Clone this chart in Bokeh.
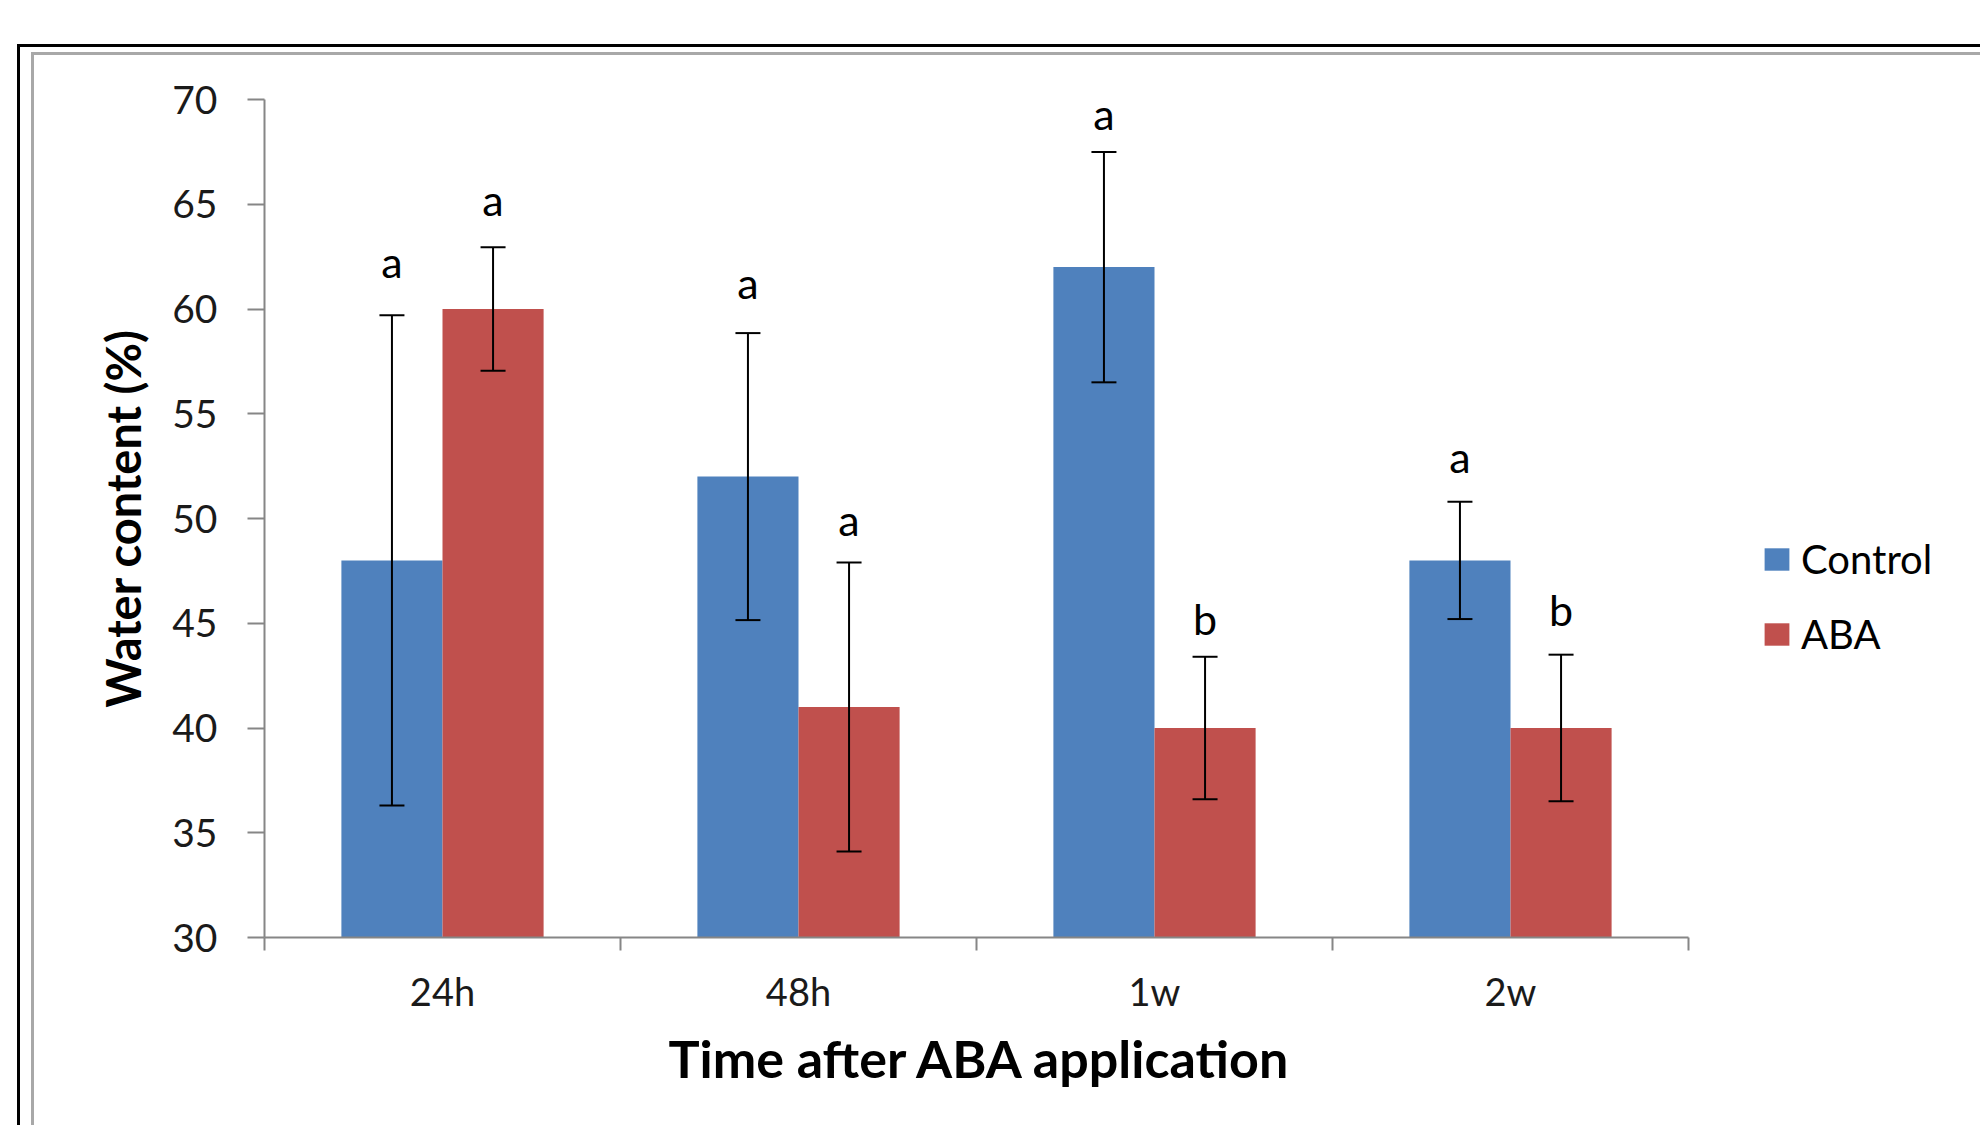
import numpy as np
from bokeh.plotting import figure
from bokeh.models import (ColumnDataSource, Range1d, FixedTicker, Whisker, TeeHead,
                          Legend, LegendItem, Title)
from bokeh.core.properties import value
from bokeh.embed import file_html
from bokeh.resources import INLINE

# ---------------- data ----------------
categories = ["24h", "48h", "1w", "2w"]
control_mean = [48.0, 52.0, 62.0, 48.0]
control_err = [11.7, 6.85, 5.5, 2.8]
aba_mean = [60.0, 41.0, 40.0, 40.0]
aba_err = [2.95, 6.9, 3.4, 3.5]
control_letters = ["a", "a", "a", "a"]
aba_letters = ["a", "a", "b", "b"]
control_letter_y = [62.25, 61.25, 69.35, 52.95]
aba_letter_y = [65.25, 49.95, 45.25, 45.65]
y_ticks = [30, 35, 40, 45, 50, 55, 60, 65, 70]
series_names = ["Control", "ABA"]
x_title = "Time after ABA application"
y_title = "Water content (%)"

BLUE = "#4F81BD"
RED = "#C0504D"
AXIS_GRAY = "#868686"
FONT = "Lato"

# layout (pixels)
W, H = 1980, 1125
LEFT, TOP, AXIS_RIGHT, BOTTOM = 264, 99, 1688, 937

bar_w = 0.284
n = len(categories)
idx = np.arange(n)
x_c = idx + 0.5 - bar_w / 2
x_a = idx + 0.5 + bar_w / 2
# frame runs to the right edge so the legend can sit inside it; axis stops at n
x_end = n * (W - LEFT) / (AXIS_RIGHT - LEFT)

src_c = ColumnDataSource(dict(
    x=x_c, top=control_mean,
    upper=np.array(control_mean) + np.array(control_err),
    lower=np.array(control_mean) - np.array(control_err),
    letter=control_letters, ly=control_letter_y))
src_a = ColumnDataSource(dict(
    x=x_a, top=aba_mean,
    upper=np.array(aba_mean) + np.array(aba_err),
    lower=np.array(aba_mean) - np.array(aba_err),
    letter=aba_letters, ly=aba_letter_y))

p = figure(width=W, height=H, output_backend="svg", toolbar_location=None,
           x_range=Range1d(0, x_end), y_range=Range1d(y_ticks[0], y_ticks[-1]),
           min_border_left=LEFT, min_border_right=0, min_border_top=TOP,
           min_border_bottom=H - BOTTOM)
p.outline_line_color = None
p.xgrid.visible = False
p.ygrid.visible = False
p.background_fill_color = "white"
p.border_fill_color = None
# chart-area frame lines (black outer, gray inner), drawn as CSS on the host element
p.styles = {
    "box-shadow": ("inset 17px 44px 0 0 #ffffff, inset 20px 47px 0 0 #000000, "
                   "inset 31px 52px 0 0 #ffffff, inset 34px 55px 0 0 #a8a8a8"),
    "background-color": "#ffffff",
}

r_c = p.vbar(x="x", top="top", bottom=y_ticks[0], width=bar_w, source=src_c,
             fill_color=BLUE, line_color=None)
r_a = p.vbar(x="x", top="top", bottom=y_ticks[0], width=bar_w, source=src_a,
             fill_color=RED, line_color=None)

for src in (src_c, src_a):
    w = Whisker(base="x", upper="upper", lower="lower", source=src, dimension="height",
                line_color="black", line_width=2, level="overlay",
                upper_head=TeeHead(size=25, line_color="black", line_width=2),
                lower_head=TeeHead(size=25, line_color="black", line_width=2))
    p.add_layout(w)
    p.text(x="x", y="ly", text="letter", source=src, text_align="center",
           text_baseline="middle", text_font=value(FONT), text_font_size="43px",
           text_color="black")

# y axis
p.yaxis.ticker = FixedTicker(ticks=y_ticks)
p.yaxis.axis_label = y_title
p.yaxis.axis_label_text_font = FONT
p.yaxis.axis_label_text_font_style = "bold"
p.yaxis.axis_label_text_font_size = "47px"
p.yaxis.axis_label_text_color = "black"
p.yaxis.axis_label_standoff = 18
p.yaxis.major_label_text_font = FONT
p.yaxis.major_label_text_font_size = "39px"
p.yaxis.major_label_text_color = "#1a1a1a"
p.yaxis.major_label_standoff = 30
p.yaxis.major_tick_out = 17
p.yaxis.major_tick_in = 0
p.yaxis.minor_tick_line_color = None
p.yaxis.axis_line_color = AXIS_GRAY
p.yaxis.axis_line_width = 2
p.yaxis.major_tick_line_color = AXIS_GRAY
p.yaxis.major_tick_line_width = 2

# x axis
p.xaxis.bounds = (0, n)
p.xaxis.ticker = FixedTicker(ticks=list(idx + 0.5), minor_ticks=list(range(n + 1)))
p.xaxis.major_label_overrides = {float(i + 0.5): c for i, c in enumerate(categories)}
p.xaxis.major_label_text_font = FONT
p.xaxis.major_label_text_font_size = "38px"
p.xaxis.major_label_text_color = "#1a1a1a"
p.xaxis.major_label_standoff = 17
p.xaxis.major_tick_out = 0
p.xaxis.major_tick_in = 0
p.xaxis.major_tick_line_color = None
p.xaxis.minor_tick_out = 13
p.xaxis.minor_tick_in = 0
p.xaxis.minor_tick_line_color = AXIS_GRAY
p.xaxis.minor_tick_line_width = 2
p.xaxis.axis_line_color = AXIS_GRAY
p.xaxis.axis_line_width = 2

# x-axis title, centred under the category axis (not under the wider frame)
xt = Title(text=x_title, align="left", offset=404, standoff=16,
           text_font=FONT, text_font_style="bold", text_font_size="52px",
           text_color="black")
p.add_layout(xt, "below")

legend = Legend(items=[LegendItem(label=series_names[0], renderers=[r_c]),
                       LegendItem(label=series_names[1], renderers=[r_a])],
                location=(1497, 279), orientation="vertical",
                glyph_width=31, glyph_height=28, label_standoff=9, spacing=27,
                padding=0, margin=0, border_line_color=None, background_fill_alpha=0,
                label_text_font=FONT, label_text_font_size="40px", label_text_color="black")
p.add_layout(legend)

open("out.html", "w").write(file_html(p, INLINE))
